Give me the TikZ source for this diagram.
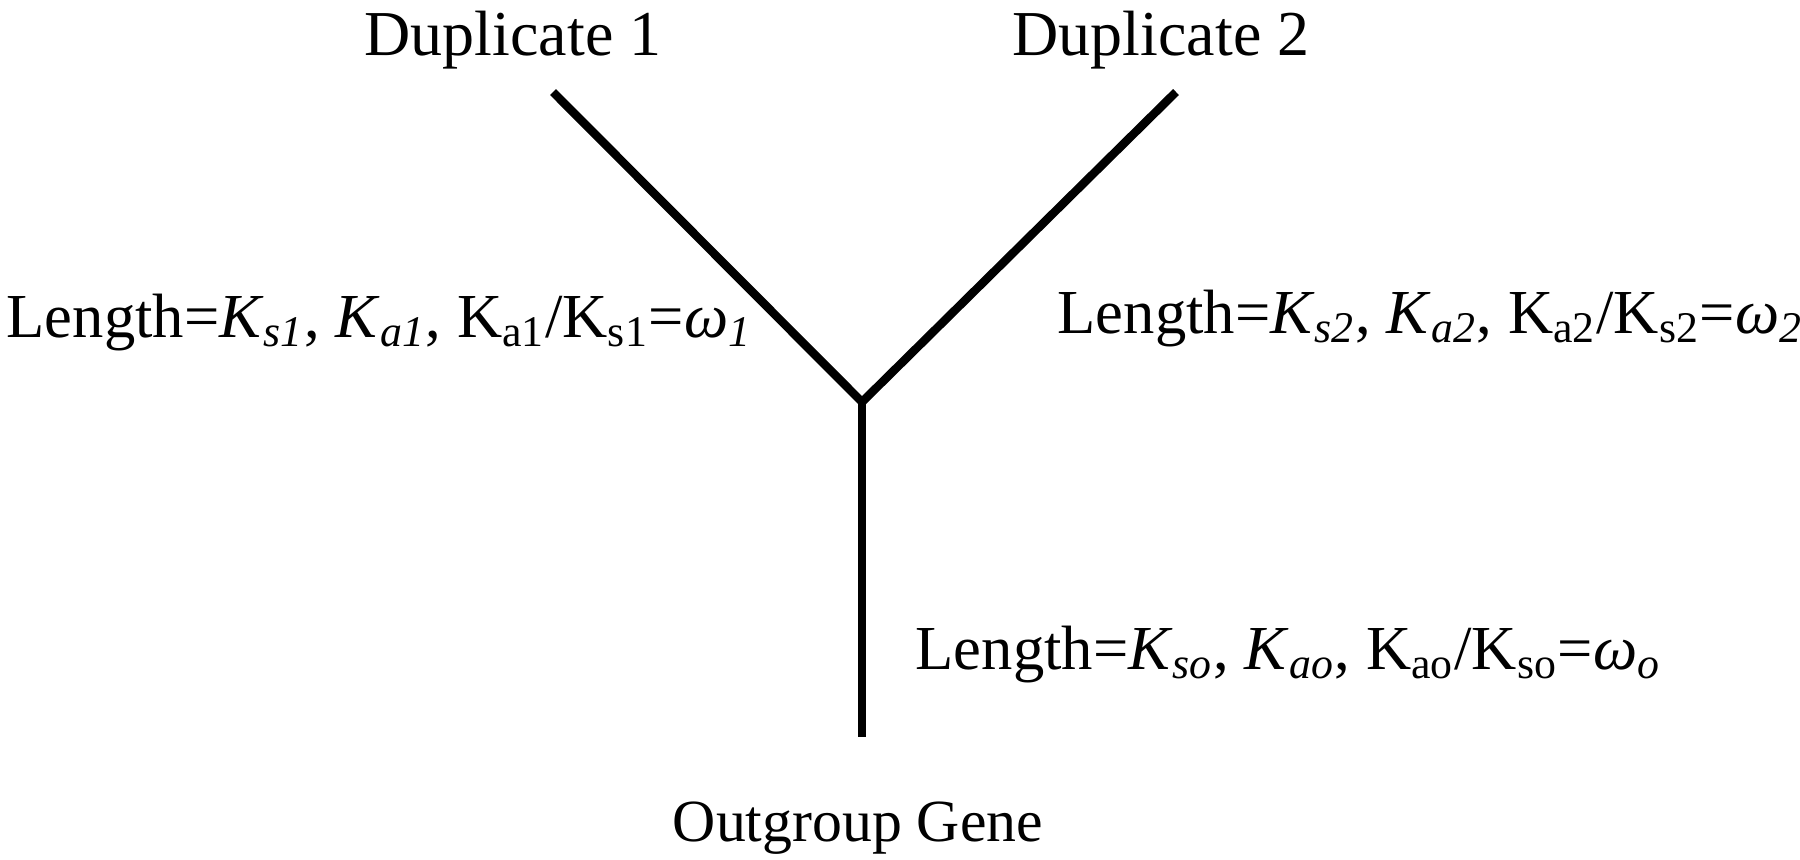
\documentclass[tikz,border=0pt]{standalone}
\usepackage{fontspec}
\setmainfont{Liberation Serif}
\newcommand{\Ksub}[2]{\textit{#1}\textsubscript{\textit{#2}}}
\newcommand{\Rsub}[2]{#1\textsubscript{#2}}
\begin{document}
\begin{tikzpicture}[x=0.01cm,y=-0.01cm,
  branch/.style={line width=2.4pt,line join=miter},
  lbl/.style={inner sep=0pt,font=\fontsize{17.8}{21}\selectfont},
  tip/.style={inner sep=0pt,font=\fontsize{18.2}{21}\selectfont}]
\useasboundingbox (0,0) rectangle (1800,859);
\coordinate (j) at (862,402);
\coordinate (e1) at (553,92);
\coordinate (e2) at (1176,92);
\coordinate (e0) at (862,737);
\draw[branch] (e1) -- (j) -- (e2);
\draw[branch] (j) -- (e0);
\node[tip,anchor=base] (d1) at (513,55) {Duplicate 1};
\node[tip,anchor=base] (d2) at (1161,55) {Duplicate 2};
\node[tip,anchor=base,font=\fontsize{17}{21}\selectfont] (og) at (858,841) {Outgroup Gene};
\node[lbl,anchor=base west] (l1) at (6,337) {Length=\Ksub{K}{s1}, \Ksub{K}{a1}, \Rsub{K}{a1}/\Rsub{K}{s1}=\Ksub{ω}{1}};
\node[lbl,anchor=base west] (l2) at (1057,333) {Length=\Ksub{K}{s2}, \Ksub{K}{a2}, \Rsub{K}{a2}/\Rsub{K}{s2}=\Ksub{ω}{2}};
\node[lbl,anchor=base west] (l0) at (915,669) {Length=\Ksub{K}{so}, \Ksub{K}{ao}, \Rsub{K}{ao}/\Rsub{K}{so}=\Ksub{ω}{o}};
\end{tikzpicture}
\end{document}
